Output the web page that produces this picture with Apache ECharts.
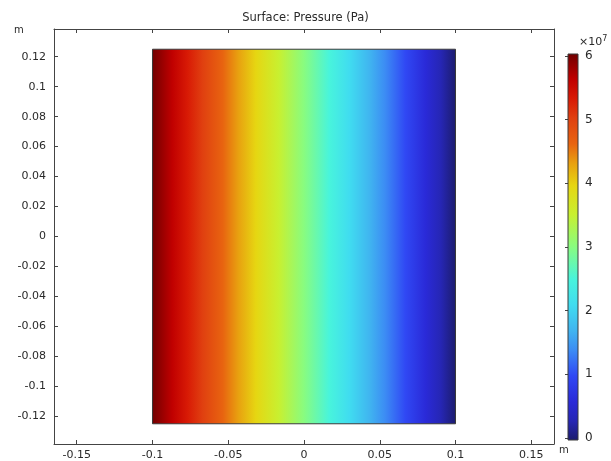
<!DOCTYPE html>
<html>
<head>
<meta charset="utf-8">
<script src="https://cdn.jsdelivr.net/npm/echarts@6/dist/echarts.min.js"></script>
<style>
  html, body { margin: 0; padding: 0; background: #fff; }
  #main { width: 611px; height: 461px; }
</style>
</head>
<body>
<div id="main"></div>
<script>
// geometry of the domain (m) and pressure at its left/right edges (x1e7 Pa)
const domainX = [-0.1, 0.1]
const domainY = [-0.125, 0.125]
const edgePressure = [6, 0]

// axis ticks
const xTicks = [-0.15, -0.1, -0.05, 0, 0.05, 0.1, 0.15]
const yTicks = [-0.12, -0.1, -0.08, -0.06, -0.04, -0.02, 0, 0.02, 0.04, 0.06, 0.08, 0.1, 0.12]
const cbTicks = [0, 1, 2, 3, 4, 5, 6]

// colour table (value in 1e7 Pa -> colour)
const cmapValues = [0, 0.3, 0.6, 1.0, 1.4, 1.7, 2.1, 2.5, 3.0, 3.5, 3.95, 4.3, 4.6, 5.0, 5.3, 5.6, 6.0]
const cmapColors = ['#1c1c6c', '#2626b4', '#2a2ad8', '#3048f4', '#3c8cf4', '#40b4f0', '#40dcf0', '#48f4dc',
  '#88fc80', '#c8f030', '#e6d612', '#e8a010', '#e86410', '#e04010', '#d81a05', '#c00000', '#700000']

const font = 'DejaVu Sans'
const axisColor = '#444'
const textColor = '#2a2a2a'

// gradient stops along a rect going from pressure a to pressure b
function stops (a, b) {
  return cmapValues.map((v, i) => ({ offset: (v - a) / (b - a), color: cmapColors[i] }))
    .sort((s1, s2) => s1.offset - s2.offset)
}

const chart = echarts.init(document.getElementById('main'), null, { renderer: 'canvas' })

const lineStyle = { show: true, onZero: false, lineStyle: { color: axisColor } }
const tickStyle = { inside: true, length: 4, lineStyle: { color: axisColor } }
const lblStyle = { color: textColor, fontFamily: font, fontSize: 11 }

const option = {
  animation: false,
  backgroundColor: '#fff',
  grid: [
    { left: 54, right: 57, top: 29, bottom: 16 },
    { left: 568, width: 10, top: 56, height: 382 }
  ],
  xAxis: [
    {
      gridIndex: 0, type: 'value', min: -0.165, max: 0.165,
      axisLine: lineStyle,
      axisTick: Object.assign({ customValues: xTicks }, tickStyle),
      axisLabel: Object.assign({ customValues: xTicks, margin: 6, formatter: v => String(v) }, lblStyle),
      splitLine: { show: false }
    },
    {
      gridIndex: 0, type: 'value', position: 'top', min: -0.165, max: 0.165,
      axisLine: lineStyle,
      axisTick: Object.assign({ customValues: xTicks }, tickStyle),
      axisLabel: { show: false }, splitLine: { show: false }
    },
    { gridIndex: 1, type: 'value', min: 0, max: 1, show: false }
  ],
  yAxis: [
    {
      gridIndex: 0, type: 'value', min: -0.1385, max: 0.1385,
      axisLine: lineStyle,
      axisTick: Object.assign({ customValues: yTicks }, tickStyle),
      axisLabel: Object.assign({ customValues: yTicks, margin: 8, formatter: v => String(v) }, lblStyle),
      splitLine: { show: false }
    },
    {
      gridIndex: 0, type: 'value', position: 'right', min: -0.1385, max: 0.1385,
      axisLine: lineStyle,
      axisTick: Object.assign({ customValues: yTicks }, tickStyle),
      axisLabel: { show: false }, splitLine: { show: false }
    },
    {
      gridIndex: 1, type: 'value', position: 'right', min: 0, max: 6,
      axisLine: { show: false },
      axisTick: Object.assign({ customValues: cbTicks }, tickStyle, { length: 3 }),
      axisLabel: Object.assign({ customValues: cbTicks, margin: 7 }, lblStyle, { fontSize: 12 }),
      splitLine: { show: false }
    },
    {
      gridIndex: 1, type: 'value', position: 'left', min: 0, max: 6,
      axisLine: { show: false },
      axisTick: Object.assign({ customValues: cbTicks }, tickStyle, { length: 3 }),
      axisLabel: { show: false }, splitLine: { show: false }
    }
  ],
  series: [
    {
      // pressure surface
      type: 'custom',
      xAxisIndex: 0, yAxisIndex: 0,
      clip: true,
      data: [[domainX[0], domainX[1], domainY[0], domainY[1], edgePressure[0], edgePressure[1]]],
      renderItem (params, api) {
        const p1 = api.coord([api.value(0), api.value(3)])
        const p2 = api.coord([api.value(1), api.value(2)])
        return {
          type: 'rect',
          shape: { x: p1[0], y: p1[1], width: p2[0] - p1[0], height: p2[1] - p1[1] },
          style: {
            fill: { type: 'linear', x: 0, y: 0, x2: 1, y2: 0, colorStops: stops(api.value(4), api.value(5)) },
            stroke: '#3a3a3a', lineWidth: 1
          }
        }
      }
    },
    {
      // colour legend
      type: 'custom',
      xAxisIndex: 2, yAxisIndex: 2,
      data: [[0, 1, cbTicks[0], cbTicks[cbTicks.length - 1]]],
      renderItem (params, api) {
        const p1 = api.coord([api.value(0), api.value(3)])
        const p2 = api.coord([api.value(1), api.value(2)])
        return {
          type: 'rect',
          shape: { x: p1[0], y: p1[1] - 2, width: p2[0] - p1[0], height: p2[1] - p1[1] + 4 },
          style: {
            fill: { type: 'linear', x: 0, y: 1, x2: 0, y2: 0, colorStops: stops(api.value(2), api.value(3)) },
            stroke: '#3a3a3a', lineWidth: 1
          }
        }
      }
    }
  ],
  graphic: [
    { type: 'text', left: 'center', x: 0, top: 12, style: { text: 'Surface: Pressure (Pa)', fill: textColor, font: '11.5px "DejaVu Sans"' } },
    { type: 'text', x: 14, y: 25, style: { text: 'm', fill: textColor, font: '10px "DejaVu Sans"' } },
    { type: 'text', x: 559, y: 445, style: { text: 'm', fill: textColor, font: '10px "DejaVu Sans"' } },
    {
      type: 'text', x: 579, y: 35,
      style: {
        text: '×10{s|7}', fill: textColor, font: '11px "DejaVu Sans"',
        rich: { s: { fontSize: 8, fontFamily: font, fill: textColor, verticalAlign: 'top', padding: [0, 0, 6, 0] } }
      }
    }
  ]
}

chart.setOption(option)
</script>
</body>
</html>
